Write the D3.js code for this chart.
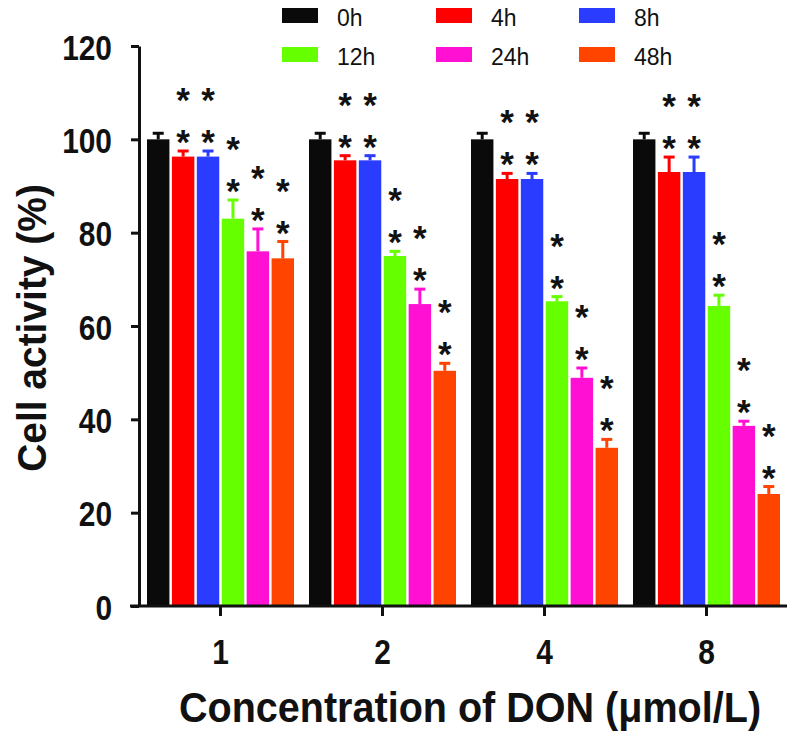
<!DOCTYPE html>
<html>
<head>
<meta charset="utf-8">
<script src="https://cdn.jsdelivr.net/npm/d3@7"></script>
<style>
  html, body { margin: 0; padding: 0; background: #ffffff; }
  svg { display: block; }
  text { font-family: "Liberation Sans", Arial, Helvetica, sans-serif; }
</style>
</head>
<body>
<svg id="chart" width="787" height="735"></svg>
<script>
// ---- data ----
const groups = ["1", "2", "4", "8"];
const seriesNames = ["0h", "4h", "8h", "12h", "24h", "48h"];
const seriesColors = ["#0a0a0a", "#ff0000", "#2a3cff", "#66ff00", "#ff10d2", "#ff4400"];
const values0h  = [100, 100, 100, 100];
const values4h  = [96.3, 95.5, 91.5, 93.0];
const values8h  = [96.3, 95.5, 91.5, 93.0];
const values12h = [83.0, 75.0, 65.3, 64.3];
const values24h = [76.0, 64.7, 48.9, 38.6];
const values48h = [74.5, 50.4, 33.9, 24.0];
const err0h  = [1.3, 1.3, 1.3, 1.3];
const err4h  = [1.2, 1.0, 1.2, 3.2];
const err8h  = [1.2, 1.0, 1.2, 3.2];
const err12h = [4.0, 1.0, 1.0, 2.3];
const err24h = [4.8, 3.2, 2.1, 1.0];
const err48h = [3.6, 1.6, 1.8, 1.6];
const starCount = [0, 2, 2, 2, 2, 2];   // asterisks per series (all groups)
const yTicks = [0, 20, 40, 60, 80, 100, 120];
const yTitle = "Cell activity (%)";
const xTitle = "Concentration of DON (\u03bcmol/L)";

const seriesValues = [values0h, values4h, values8h, values12h, values24h, values48h];
const seriesErrors = [err0h, err4h, err8h, err12h, err24h, err48h];

// ---- build table ----
const rows = [];
groups.forEach((g, gi) => {
  seriesNames.forEach((s, si) => {
    rows.push({ group: g, series: s, si, value: seriesValues[si][gi], err: seriesErrors[si][gi], stars: starCount[si] });
  });
});

const svg = d3.select("#chart");
const INK = "#111";
const COND = 0.83; // horizontal condensation for the bold labels

const y = d3.scaleLinear().domain([0, 120]).range([606, 46]);
const x0 = d3.scaleBand().domain(groups).range([147, 780]).paddingInner(0.0926).paddingOuter(0);
const x1 = d3.scaleBand().domain(seriesNames).range([0, x0.bandwidth()]).paddingInner(0.1).paddingOuter(0);
const color = d3.scaleOrdinal().domain(seriesNames).range(seriesColors);

// bars
svg.append("g").selectAll("rect").data(rows).join("rect")
  .attr("x", d => x0(d.group) + x1(d.series))
  .attr("y", d => y(d.value))
  .attr("width", x1.bandwidth())
  .attr("height", d => y(0) - y(d.value))
  .attr("fill", d => color(d.series));

// error bars (upper only)
const errG = svg.append("g");
rows.forEach(d => {
  const cx = x0(d.group) + x1(d.series) + x1.bandwidth() / 2;
  errG.append("line")
    .attr("x1", cx).attr("x2", cx)
    .attr("y1", y(d.value)).attr("y2", y(d.value + d.err))
    .attr("stroke", color(d.series)).attr("stroke-width", 3);
  errG.append("line")
    .attr("x1", cx - 5.5).attr("x2", cx + 5.5)
    .attr("y1", y(d.value + d.err)).attr("y2", y(d.value + d.err))
    .attr("stroke", color(d.series)).attr("stroke-width", 3);
});

// asterisks
const starG = svg.append("g");
rows.filter(d => d.stars > 0).forEach(d => {
  const cx = x0(d.group) + x1(d.series) + x1.bandwidth() / 2;
  for (let k = 0; k < d.stars; k++) {
    const cy = y(d.value + d.err) - 17 - k * 42;
    starG.append("text")
      .attr("x", cx).attr("y", cy + 20)
      .attr("text-anchor", "middle")
      .attr("font-size", 35).attr("font-weight", "bold")
      .attr("fill", INK)
      .text("*");
  }
});

// y axis
const yAxis = d3.axisLeft(y).tickValues(yTicks).tickSize(8).tickSizeOuter(0);
const yg = svg.append("g").attr("transform", "translate(139,0)").call(yAxis);
yg.select(".domain").attr("stroke", INK).attr("stroke-width", 3);
yg.selectAll(".tick line").attr("stroke", INK).attr("stroke-width", 3);
yg.selectAll(".tick text")
  .attr("x", 0).attr("y", 0).attr("dy", null)
  .attr("transform", `translate(-27,13) scale(${COND},1)`)
  .attr("text-anchor", "end")
  .attr("font-size", 36).attr("font-weight", "bold").attr("fill", INK)
  .attr("font-family", "'Liberation Sans', Arial, sans-serif");

// x axis
const xCenter = d3.scaleOrdinal().domain(groups).range(groups.map(g => x0(g) + x0.bandwidth() / 2));
const xg = svg.append("g").attr("transform", "translate(0,606)");
xg.append("line").attr("x1", 130).attr("x2", 787).attr("y1", 0).attr("y2", 0)
  .attr("stroke", INK).attr("stroke-width", 3);
const xt = xg.selectAll("g.tick").data(groups).join("g").attr("class", "tick")
  .attr("transform", g => `translate(${xCenter(g)},0)`);
xt.append("line").attr("y1", 0).attr("y2", 10).attr("stroke", INK).attr("stroke-width", 3);
xt.append("text")
  .attr("transform", `translate(0,58) scale(${COND},1)`)
  .attr("text-anchor", "middle")
  .attr("font-size", 36).attr("font-weight", "bold").attr("fill", INK)
  .text(g => g);

// axis titles
svg.append("text")
  .attr("transform", "translate(46,328) rotate(-90) scale(0.95,1)")
  .attr("text-anchor", "middle")
  .attr("font-size", 41).attr("font-weight", "bold").attr("fill", INK)
  .text(yTitle);
svg.append("text")
  .attr("transform", "translate(470,722) scale(0.92,1)")
  .attr("text-anchor", "middle")
  .attr("font-size", 43).attr("font-weight", "bold").attr("fill", INK)
  .text(xTitle);

// legend
const legCols = [282, 436, 579];
const legRows = [8, 47];
const legG = svg.append("g");
seriesNames.forEach((s, i) => {
  const lx = legCols[i % 3], ly = legRows[Math.floor(i / 3)];
  legG.append("rect").attr("x", lx).attr("y", ly).attr("width", 36).attr("height", 15).attr("fill", color(s));
  legG.append("text").attr("x", lx + 55).attr("y", ly + 18)
    .attr("font-size", 23).attr("fill", INK).text(s);
});
</script>
</body>
</html>
